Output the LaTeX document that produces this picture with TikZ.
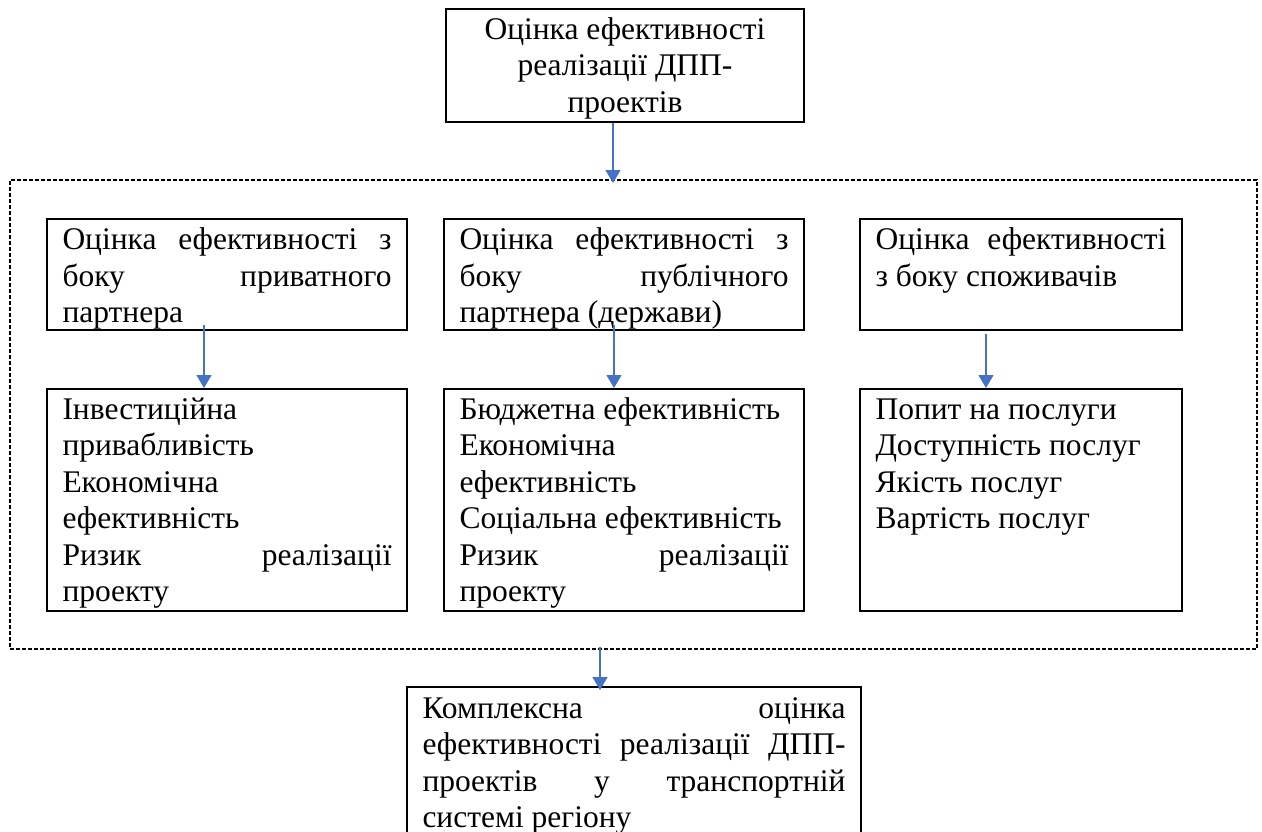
\documentclass[tikz,border=0pt]{standalone}
\usepackage{fontspec}
\setmainfont{Liberation Serif}
\usetikzlibrary{arrows.meta}
\definecolor{arrblue}{HTML}{4472C4}
\newcommand\diagfont{\fontsize{31.5}{36.5}\selectfont\lineskiplimit=-30pt\relax}
\begin{document}
\begin{tikzpicture}[x=1pt,y=-1pt,
  font=\diagfont,
  box/.style={draw, line width=2pt, inner xsep=15.5pt, inner ysep=0pt, anchor=north west},
  frm/.style={draw, line width=2pt, dash pattern=on 4pt off 2pt, inner sep=0pt, anchor=north west},
  arr/.style={draw=arrblue, line width=1.3pt, -{Triangle[width=15pt,length=13pt]}, fill=arrblue}
]
\useasboundingbox (0,0) rectangle (1262,831);
\clip (0,0) rectangle (1262,831);

\node[frm, minimum width=1247pt, minimum height=469pt] (frame) at (9,179) {};

\node[box] (top) at (445,8) {\parbox[c][113pt][t]{327pt}{\centering\rule{0pt}{30pt}Оцінка ефективності\\ реалізації ДПП-\\ проектів}};

\node[box] (l1) at (46,218) {\parbox[c][111pt][t]{329pt}{\rule{0pt}{30.5pt}Оцінка\hfill ефективності\hfill з\\ боку\hfill приватного\\ партнера}};
\node[box] (m1) at (443,218) {\parbox[c][111pt][t]{329pt}{\rule{0pt}{30.5pt}Оцінка\hfill ефективності\hfill з\\ боку\hfill публічного\\ партнера (держави)}};
\node[box] (r1) at (859,218) {\parbox[c][111pt][t]{291pt}{\rule{0pt}{30.5pt}Оцінка\hfill ефективності\\ з боку споживачів}};

\node[box] (l2) at (46,388) {\parbox[c][222pt][t]{329pt}{\rule{0pt}{30pt}Інвестиційна\\ привабливість\\ Економічна\\ ефективність\\ Ризик\hfill реалізації\\ проекту}};
\node[box] (m2) at (443,388) {\parbox[c][222pt][t]{329pt}{\rule{0pt}{30pt}Бюджетна ефективність\\ Економічна\\ ефективність\\ Соціальна ефективність\\ Ризик\hfill реалізації\\ проекту}};
\node[box] (r2) at (859,388) {\parbox[c][222pt][t]{291pt}{\rule{0pt}{30pt}Попит на послуги\\ Доступність послуг\\ Якість послуг\\ Вартість послуг}};

\node[box] (bot) at (406,686) {\parbox[c][170pt][t]{423pt}{\rule{0pt}{31pt}Комплексна\hfill оцінка\\ ефективності\hfill реалізації\hfill ДПП-\\ проектів\hfill у\hfill транспортній\\ системі регіону}};

\draw[arr] ([xshift=-12pt]top.south) -- ([xshift=-12pt,yshift=-4pt]top.south |- frame.north);
\draw[arr] ([xshift=-23pt,yshift=6pt]l1.south) -- ([xshift=-23pt]l1.south |- l2.north);
\draw[arr] ([xshift=-10pt,yshift=6pt]m1.south) -- ([xshift=-10pt]m1.south |- m2.north);
\draw[arr] ([xshift=-35pt,yshift=-3pt]r1.south) -- ([xshift=-35pt]r1.south |- r2.north);
\draw[arr] ([xshift=-34pt]bot.north |- frame.south) ++(0,-3) -- ([xshift=-34pt,yshift=-4pt]bot.north);
\end{tikzpicture}
\end{document}
